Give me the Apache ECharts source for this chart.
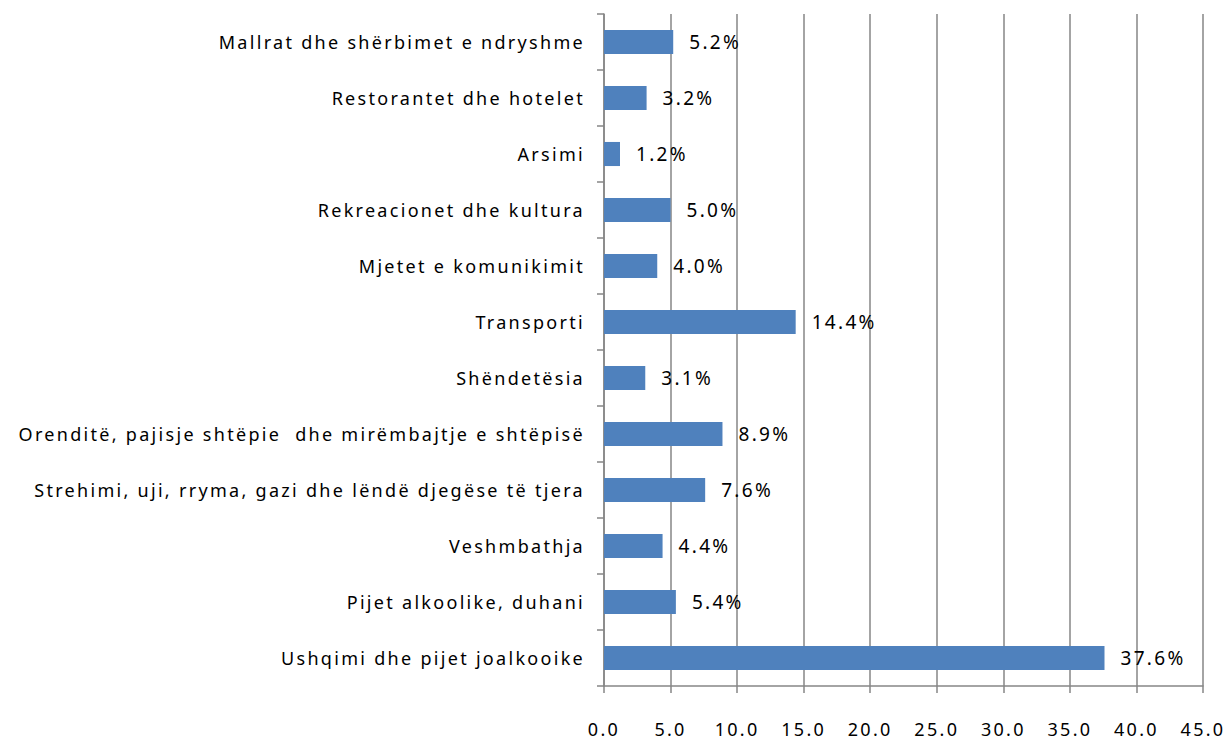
<!DOCTYPE html>
<html>
<head>
<meta charset="utf-8">
<script src="https://cdn.jsdelivr.net/npm/echarts@6/dist/echarts.min.js"></script>
<style>
  html, body { margin: 0; padding: 0; background: #fff; }
  #chart { width: 1230px; height: 742px; }
  /* the source chart has loosely spaced lettering */
  #chart text { letter-spacing: 2.3px; }
</style>
</head>
<body>
<div id="chart"></div>
<script>
// categories from bottom to top
const categories = [
  "Ushqimi dhe pijet joalkooike",
  "Pijet alkoolike, duhani",
  "Veshmbathja",
  "Strehimi, uji, rryma, gazi dhe lëndë djegëse të tjera",
  "Orenditë, pajisje shtëpie  dhe mirëmbajtje e shtëpisë",
  "Shëndetësia",
  "Transporti",
  "Mjetet e komunikimit",
  "Rekreacionet dhe kultura",
  "Arsimi",
  "Restorantet dhe hotelet",
  "Mallrat dhe shërbimet e ndryshme"
];
const shares = [37.6, 5.4, 4.4, 7.6, 8.9, 3.1, 14.4, 4.0, 5.0, 1.2, 3.2, 5.2];

const font = "'Noto Sans', sans-serif";
const chart = echarts.init(document.getElementById("chart"), null, { renderer: "svg" });

chart.setOption({
  animation: false,
  grid: { left: 604, right: 27, top: 14, bottom: 56 },
  xAxis: {
    type: "value",
    min: 0,
    max: 45,
    interval: 5,
    axisLine: { show: true, lineStyle: { color: "#868686", width: 1.5 } },
    axisTick: { show: true, length: 7, lineStyle: { color: "#868686", width: 1.5 } },
    axisLabel: {
      margin: 33,
      color: "#000",
      fontFamily: font,
      fontSize: 18,
      lineHeight: 20,
      formatter: v => v.toFixed(1)
    },
    splitLine: { show: true, lineStyle: { color: "#868686", width: 1.5 } }
  },
  yAxis: {
    type: "category",
    data: categories,
    axisLine: { show: true, lineStyle: { color: "#868686", width: 1.5 } },
    axisTick: { show: true, length: 7, lineStyle: { color: "#868686", width: 1.5 } },
    axisLabel: {
      margin: 19,
      color: "#000",
      fontFamily: font,
      fontSize: 18
    }
  },
  series: [{
    type: "bar",
    data: shares,
    barWidth: "43%",
    itemStyle: { color: "#4F81BD" },
    label: {
      show: true,
      position: "right",
      distance: 16,
      color: "#000",
      fontFamily: font,
      fontSize: 19,
      formatter: p => p.value.toFixed(1) + "%"
    }
  }]
});
</script>
</body>
</html>
